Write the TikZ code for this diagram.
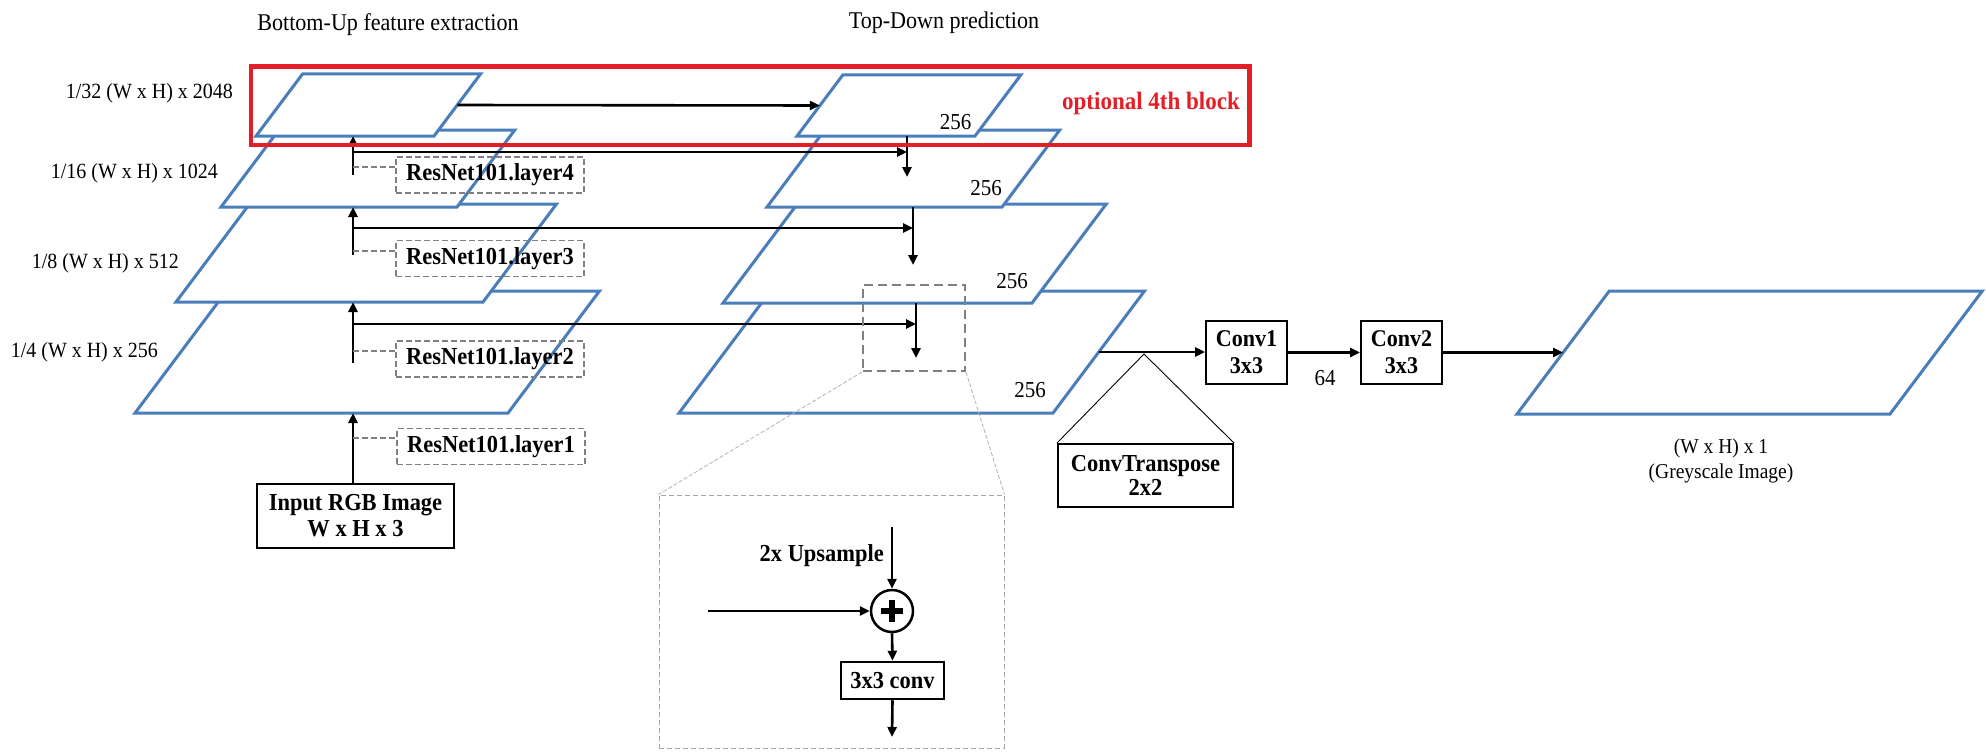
\documentclass[tikz,border=0pt]{standalone}
\usepackage{fontspec}
\setmainfont{Liberation Serif}[FakeStretch=0.92]
\usetikzlibrary{arrows.meta,calc}
\definecolor{planeblue}{RGB}{74,126,187}
\definecolor{optred}{RGB}{228,30,38}
\newcommand\txtBold{\fontsize{24.4}{26}\selectfont\bfseries}
\newcommand\txtBoldB{\fontsize{24}{27}\selectfont\bfseries}
\newcommand\txtReg{\fontsize{21.7}{24}\selectfont}
\newcommand\txtTitle{\fontsize{24}{26}\selectfont}
\newcommand\txtNum{\fontsize{22.8}{25}\selectfont}
\newcommand\txtOut{\fontsize{21.2}{25}\selectfont}
\newcommand\plane[5]{%
  \pgfmathsetmacro\myslant{0.75*(#3-#4)}%
  \coordinate (#1-bl) at (#2,#3);
  \coordinate (#1-br) at ({#2+#5},#3);
  \coordinate (#1-tr) at ({#2+#5+\myslant},#4);
  \coordinate (#1-tl) at ({#2+\myslant},#4);
  \draw[plane] (#1-bl) -- (#1-br) -- (#1-tr) -- (#1-tl) -- cycle;
}
\begin{document}
\begin{tikzpicture}[x=1pt,y=-1pt,
  plane/.style={draw=planeblue, line width=3pt, fill=white, line join=miter},
  arr/.style={line width=2.6pt, -{Triangle[length=10pt,width=9pt]}},
  resbox/.style={draw=gray, dash pattern=on 6pt off 3pt, line width=1.3pt, minimum width=188pt, minimum height=36pt, inner sep=0pt, font=\txtBold},
  resline/.style={draw=gray, dash pattern=on 6pt off 3pt, line width=1.3pt},
  solidbox/.style={draw, line width=2pt, fill=white, inner sep=0pt, align=center},
  srcbox/.style={draw=gray, dash pattern=on 9pt off 5pt, line width=2pt, inner sep=0pt},
  bigbox/.style={draw=gray!70, dash pattern=on 5pt off 3pt, line width=1pt, inner sep=0pt},
  zoomline/.style={draw=gray!60, dash pattern=on 4pt off 2pt, line width=0.8pt},
  thinline/.style={line width=0.9pt},
  lbl/.style={inner sep=0pt, font=\txtReg},
  num/.style={inner sep=0pt, font=\txtNum}
]
\useasboundingbox (0,0) rectangle (1986,752);

% titles
\node[inner sep=0pt, font=\txtTitle] (tbu) at (388,25) {Bottom-Up feature extraction};
\node[inner sep=0pt, font=\txtTitle] (ttd) at (944,23) {Top-Down prediction};

% planes (bottom-up)
\plane{P4}{135}{413}{291}{373}
\plane{P3}{176}{302}{204}{307}
\plane{P2}{221}{207}{130}{236}
\plane{P1}{256}{136}{74}{178}
% planes (top-down)
\plane{T4}{679}{413}{291}{374}
\plane{T3}{723}{303}{204}{309}
\plane{T2}{767}{207}{130}{235}
\plane{T1}{797}{136}{75}{178}
% output plane
\plane{O}{1517}{414}{291}{373}

% scale labels
\node[lbl, anchor=east] (s32) at (233,93) {1/32 (W x H) x 2048};
\node[lbl, anchor=east] (s16) at (218,173) {1/16 (W x H) x 1024};
\node[lbl, anchor=east] (s8) at (179,263) {1/8 (W x H) x 512};
\node[lbl, anchor=east] (s4) at (158,352) {1/4 (W x H) x 256};

% 256 labels
\node[num] (n1) at (955.5,122) {256};
\node[num] (n2) at (986,188) {256};
\node[num] (n3) at (1012,281) {256};
\node[num] (n4) at (1030,390) {256};

% ResNet layer boxes
\node[resbox] (L4) at (490,175) {ResNet101.layer4};
\node[resbox] (L3) at (490,258.5) {ResNet101.layer3};
\node[resbox] (L2) at (490,359) {ResNet101.layer2};
\node[resbox] (L1) at (491,446.5) {ResNet101.layer1};

% input box
\node[solidbox, minimum width=197pt, minimum height=64pt, font=\txtBold] (in) at (355.5,516) {Input RGB Image\\W x H x 3};

% bottom-up column
\coordinate (bu) at (353,0);
\coordinate (u2) at (353,363);
\coordinate (u3) at (353,255);
\coordinate (u4) at (353,175);
\draw[arr] (in.north -| bu) -- (bu |- P4-bl);
\draw[arr] (u2) -- (bu |- P3-bl);
\draw[arr] (u3) -- (bu |- P2-bl);
\draw[arr] (u4) -- (bu |- P1-bl);

% dashed links to layer boxes
\coordinate (c4) at ($(L4.west)+(0,-8)$);
\coordinate (c3) at ($(L3.west)+(0,-7.5)$);
\coordinate (c2) at ($(L2.west)+(0,-8)$);
\coordinate (c1) at ($(L1.west)+(0,-8.5)$);
\draw[resline] (c4 -| bu) -- (c4);
\draw[resline] (c3 -| bu) -- (c3);
\draw[resline] (c2 -| bu) -- (c2);
\draw[resline] (c1 -| bu) -- (c1);

% top level lateral
\draw[arr] ($(P1-br)!.5!(P1-tr)$) -- ($(T1-bl)!.5!(T1-tl)$);

% laterals and top-down arrows
\coordinate (h4) at (353,152); \coordinate (d4) at (907,152); \coordinate (e4) at (907,177);
\coordinate (h3) at (353,228); \coordinate (d3) at (913,228); \coordinate (e3) at (913,265);
\coordinate (h2) at (353,324); \coordinate (d2) at (916,324); \coordinate (e2) at (916,358);
\draw[arr] (h4) -- (d4);
\draw[arr] (d4 |- T1-bl) -- (e4);
\draw[arr] (h3) -- (d3);
\draw[arr] (d3 |- T2-bl) -- (e3);
\draw[arr] (h2) -- (d2);
\draw[arr] (d2 |- T3-bl) -- (e2);

% head
\node[solidbox, minimum width=81pt, minimum height=63pt, font=\txtBoldB] (cv1) at (1246.5,352.5) {Conv1\\3x3};
\node[solidbox, minimum width=81pt, minimum height=63pt, font=\txtBoldB] (cv2) at (1401.5,352.5) {Conv2\\3x3};
\node[solidbox, minimum width=175pt, minimum height=63pt, font=\fontsize{24.4}{24.5}\selectfont\bfseries] (ct) at (1145.5,475.5) {ConvTranspose\\2x2};
\node[num] (n64) at (1325,378) {64};
\coordinate (T4r) at ($(T4-br)!.5!(T4-tr)$);
\coordinate (Ol) at ($(O-bl)!.5!(O-tl)$);
\draw[arr] (T4r) -- (T4r -| cv1.west);
\draw[arr] (cv1.east) -- (cv2.west);
\draw[arr] (cv2.east) -- (Ol);
\coordinate (apex) at (1144,354);
\draw[thinline] (ct.north west) -- (apex) -- (ct.north east);
\node[inner sep=0pt, font=\txtOut, align=center] (olab) at (1721,460.5) {(W x H) x 1\\(Greyscale Image)};

% zoom detail
\node[srcbox, minimum width=102pt, minimum height=86pt] (zs) at (914,328) {};
\node[bigbox, minimum width=345pt, minimum height=253pt] (zb) at (831.5,621.5) {};
\draw[zoomline] (zs.south west) -- (zb.north west);
\draw[zoomline] (zs.south east) -- (zb.north east);
\node[circle, draw, line width=2.5pt, minimum size=42pt, inner sep=0pt, fill=white] (add) at (892,611) {};
\draw[line width=6.5pt] ($(add.center)+(-11,0)$) -- ($(add.center)+(11,0)$);
\draw[line width=6.5pt] ($(add.center)+(0,-11)$) -- ($(add.center)+(0,11)$);
\node[solidbox, line width=2.5pt, minimum width=103pt, minimum height=37pt, font=\txtBold] (cv) at (892.5,680.5) {3x3 conv};
\node[inner sep=0pt, anchor=east, font=\txtBold] (ups) at (884,556) {2x Upsample};
\coordinate (zin) at (892,527);
\coordinate (zl) at (708,611);
\coordinate (zout) at (892,737);
\draw[arr] (zin) -- (add.north);
\draw[arr] (zl) -- (add.west);
\draw[arr] (add.south) -- (cv.north);
\draw[arr] (cv.south) -- (zout);

% optional block
\draw[draw=optred, line width=4.5pt] (251,66.5) rectangle (1249.5,145);
\node[inner sep=0pt, text=optred, font=\fontsize{25}{27}\selectfont\bfseries] (opt) at (1151,103) {optional 4th block};
\end{tikzpicture}
\end{document}
